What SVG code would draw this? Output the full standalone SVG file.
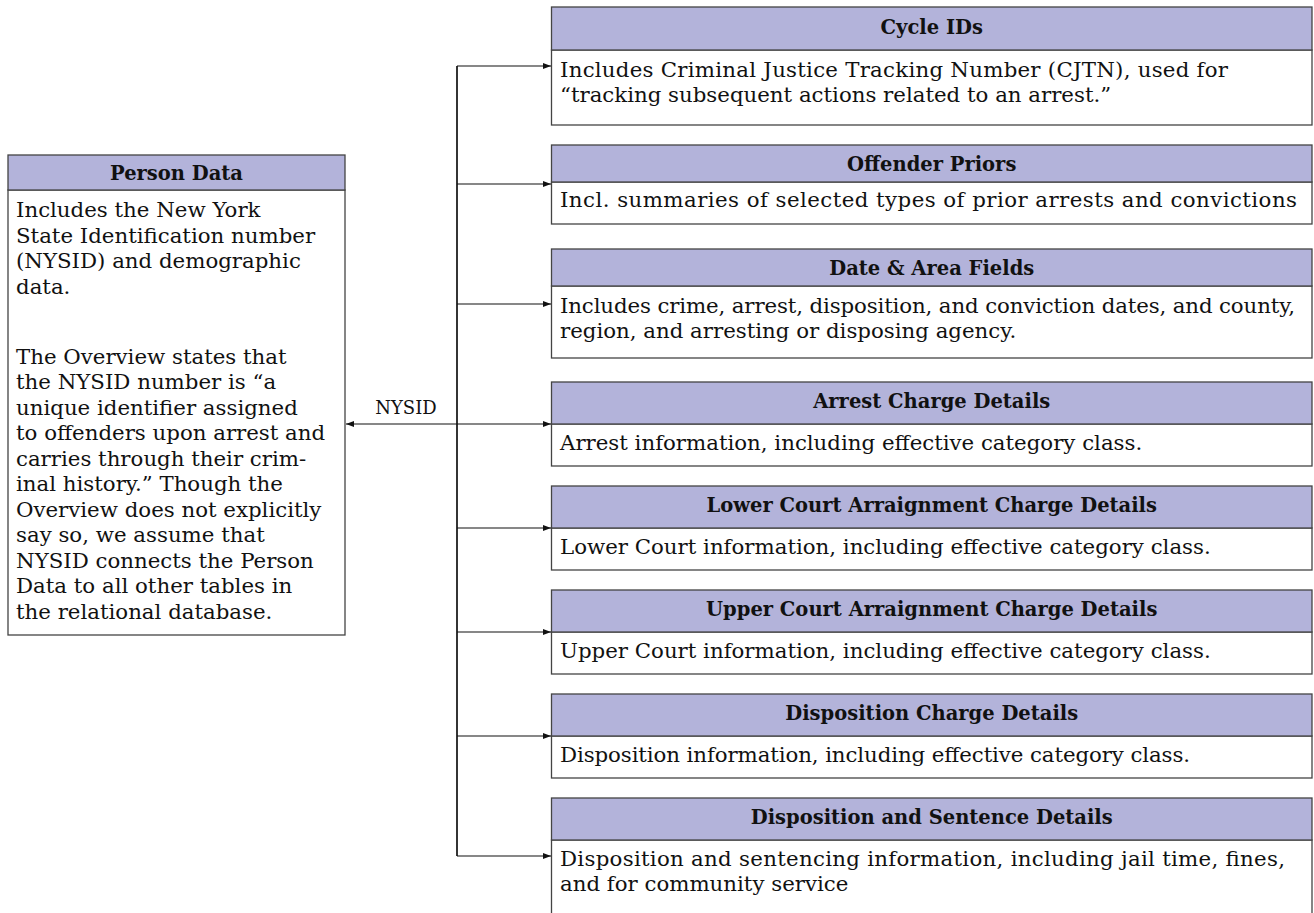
<svg xmlns="http://www.w3.org/2000/svg" width="1314" height="913" viewBox="0 0 1314 913">
<defs>
<style>
.hd{fill:#b3b3da;stroke:#444;stroke-width:1.3}
.bd{fill:#fff;stroke:#444;stroke-width:1.3}
.ht{font-family:"DejaVu Serif","Liberation Serif",serif;font-weight:bold;font-size:19.5px;fill:#111;text-anchor:middle}
.bt{font-family:"DejaVu Serif","Liberation Serif",serif;font-size:21.3px;fill:#111}
.cn{fill:none;stroke:#111;stroke-width:1.2}
.tr{fill:none;stroke:#111;stroke-width:1.7}
.lb{font-family:"DejaVu Serif","Liberation Serif",serif;font-size:18px;fill:#111;text-anchor:middle}
</style>
<marker id="ah" markerUnits="userSpaceOnUse" markerWidth="9" markerHeight="7" refX="8" refY="3" orient="auto"><path d="M0,0 L8,3 L0,6 z" fill="#111"/></marker>
</defs>
<rect width="1314" height="913" fill="#fff"/>

<g id="person-data">
<rect class="bd" x="8" y="190" width="337" height="445"/>
<rect class="hd" x="8" y="155" width="337" height="35"/>
<text class="ht" x="176.5" y="179.5">Person Data</text>
<text class="bt" x="16" y="217">Includes the New York</text>
<text class="bt" x="16" y="242.5">State Identification number</text>
<text class="bt" x="16" y="268">(NYSID) and demographic</text>
<text class="bt" x="16" y="293.5">data.</text>
<text class="bt" x="16" y="363.5">The Overview states that</text>
<text class="bt" x="16" y="389">the NYSID number is “a</text>
<text class="bt" x="16" y="414.5">unique identifier assigned</text>
<text class="bt" x="16" y="440">to offenders upon arrest and</text>
<text class="bt" x="16" y="465.5">carries through their crim-</text>
<text class="bt" x="16" y="491">inal history.”  Though the</text>
<text class="bt" x="16" y="516.5">Overview does not explicitly</text>
<text class="bt" x="16" y="542">say so, we assume that</text>
<text class="bt" x="16" y="567.5">NYSID connects the Person</text>
<text class="bt" x="16" y="593">Data to all other tables in</text>
<text class="bt" x="16" y="618.5">the relational database.</text>
</g>

<g id="cycle-ids">
<rect class="bd" x="551.5" y="50" width="760.5" height="75"/>
<rect class="hd" x="551.5" y="7" width="760.5" height="43"/>
<text class="ht" x="931.75" y="34">Cycle IDs</text>
<text class="bt" x="560" y="77" textLength="668" lengthAdjust="spacing">Includes Criminal Justice Tracking Number (CJTN), used for</text>
<text class="bt" x="560" y="102">“tracking subsequent actions related to an arrest.”</text>
</g>

<g id="offender-priors">
<rect class="bd" x="551.5" y="182" width="760.5" height="42"/>
<rect class="hd" x="551.5" y="145" width="760.5" height="37"/>
<text class="ht" x="931.75" y="170.5">Offender Priors</text>
<text class="bt" x="560" y="207" textLength="737" lengthAdjust="spacing">Incl.  summaries of selected types of prior arrests and convictions</text>
</g>

<g id="date-area-fields">
<rect class="bd" x="551.5" y="286" width="760.5" height="72"/>
<rect class="hd" x="551.5" y="249" width="760.5" height="37"/>
<text class="ht" x="931.75" y="274.5">Date &amp; Area Fields</text>
<text class="bt" x="560" y="313" textLength="735" lengthAdjust="spacing">Includes crime, arrest, disposition, and conviction dates, and county,</text>
<text class="bt" x="560" y="338">region, and arresting or disposing agency.</text>
</g>

<g id="arrest-charge-details">
<rect class="bd" x="551.5" y="424" width="760.5" height="42"/>
<rect class="hd" x="551.5" y="382" width="760.5" height="42"/>
<text class="ht" x="931.75" y="408">Arrest Charge Details</text>
<text class="bt" x="560" y="450">Arrest information, including effective category class.</text>
</g>

<g id="lower-court">
<rect class="bd" x="551.5" y="528" width="760.5" height="42"/>
<rect class="hd" x="551.5" y="486" width="760.5" height="42"/>
<text class="ht" x="931.75" y="512">Lower Court Arraignment Charge Details</text>
<text class="bt" x="560" y="554">Lower Court information, including effective category class.</text>
</g>

<g id="upper-court">
<rect class="bd" x="551.5" y="632" width="760.5" height="42"/>
<rect class="hd" x="551.5" y="590" width="760.5" height="42"/>
<text class="ht" x="931.75" y="616">Upper Court Arraignment Charge Details</text>
<text class="bt" x="560" y="658">Upper Court information, including effective category class.</text>
</g>

<g id="disposition-charge-details">
<rect class="bd" x="551.5" y="736" width="760.5" height="42"/>
<rect class="hd" x="551.5" y="694" width="760.5" height="42"/>
<text class="ht" x="931.75" y="720">Disposition Charge Details</text>
<text class="bt" x="560" y="762" textLength="630" lengthAdjust="spacing">Disposition information, including effective category class.</text>
</g>

<g id="disposition-sentence-details">
<rect class="bd" x="551.5" y="840" width="760.5" height="76"/>
<rect class="hd" x="551.5" y="798" width="760.5" height="42"/>
<text class="ht" x="931.75" y="824">Disposition and Sentence Details</text>
<text class="bt" x="560" y="866" textLength="725" lengthAdjust="spacing">Disposition and sentencing information, including jail time, fines,</text>
<text class="bt" x="560" y="891">and for community service</text>
</g>

<g id="connectors">
<path class="tr" d="M457,66 V856"/>
<path class="cn" d="M457,66 H551" marker-end="url(#ah)"/>
<path class="cn" d="M457,184 H551" marker-end="url(#ah)"/>
<path class="cn" d="M457,304 H551" marker-end="url(#ah)"/>
<path class="cn" d="M457,424 H551" marker-end="url(#ah)"/>
<path class="cn" d="M457,528 H551" marker-end="url(#ah)"/>
<path class="cn" d="M457,632 H551" marker-end="url(#ah)"/>
<path class="cn" d="M457,736 H551" marker-end="url(#ah)"/>
<path class="cn" d="M457,856 H551" marker-end="url(#ah)"/>
<path class="cn" d="M457,424 H346" marker-end="url(#ah)"/>
<text class="lb" x="406" y="414">NYSID</text>
</g>
</svg>
